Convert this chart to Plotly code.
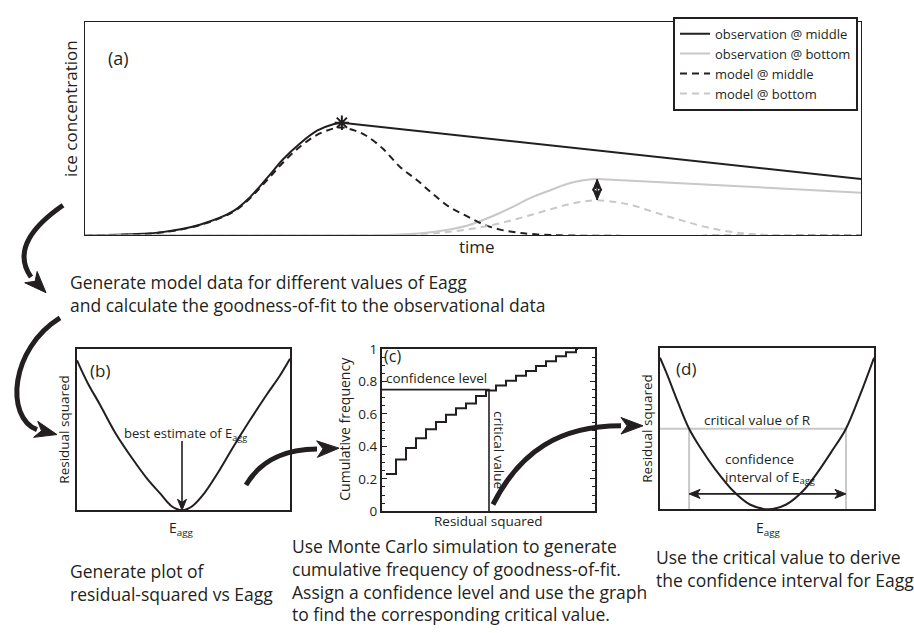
import math
import plotly.graph_objects as go

W, H = 914, 633
FONT = "Open Sans"
INK = "#231f20"
GREY = "#c8c8c8"

# ---------------- Panel (a): ice concentration vs time ----------------
time_obs_mid = [0, 5.8, 9.7, 14.8, 19.1, 21.3, 23.5, 25.5, 27.7, 29.9, 32.0, 33.1, 100]
conc_obs_mid = [0, 0.005, 0.014, 0.05, 0.113, 0.18, 0.27, 0.355, 0.43, 0.49, 0.52, 0.527, 0.264]
obs_mid_peak = 11

time_obs_bot = [0, 34.2, 40.6, 44.8, 49.2, 53.5, 57.7, 59.9, 62.1, 64.2, 66.0, 100]
conc_obs_bot = [0, 0, 0.004, 0.016, 0.045, 0.105, 0.18, 0.21, 0.24, 0.258, 0.264, 0.2]
obs_bot_peak = 10

time_mod_mid = [0, 5.8, 9.7, 14.8, 19.1, 21.3, 23.5, 25.5, 27.7, 29.9, 32.0, 33.1, 34.8, 36.3,
                38.4, 40.6, 42.8, 44.8, 47.0, 49.2, 51.3, 53.5, 55.7, 57.7, 61.2, 100]
conc_mod_mid = [0, 0.004, 0.013, 0.048, 0.11, 0.175, 0.26, 0.34, 0.415, 0.47, 0.50, 0.505, 0.49, 0.465,
                0.405, 0.32, 0.258, 0.195, 0.132, 0.09, 0.052, 0.027, 0.013, 0.006, 0, 0]

time_mod_bot = [0, 34.2, 40.6, 44.8, 49.2, 53.5, 57.7, 62.1, 64.2, 66.0, 68.6, 70.6, 72.8, 75.0,
                77.1, 79.3, 81.5, 83.5, 85.7, 89.6, 100]
conc_mod_bot = [0, 0, 0.002, 0.01, 0.027, 0.057, 0.098, 0.143, 0.158, 0.164, 0.155, 0.14, 0.115, 0.09,
                0.068, 0.045, 0.027, 0.015, 0.007, 0, 0]

peak_time_mid, peak_conc_mid = 33.1, 0.527
resid_time, resid_top, resid_bottom = 66.0, 0.262, 0.166

series_names = ["observation @ middle", "observation @ bottom", "model @ middle", "model @ bottom"]

# ---------------- Panel (b): residual squared vs Eagg ----------------
eagg_b = [0, 0.05, 0.108, 0.18, 0.263, 0.33, 0.39, 0.44, 0.468, 0.493, 0.518, 0.545, 0.60, 0.66,
          0.732, 0.81, 0.892, 0.95, 1.0]
resid_b = [0.93, 0.79, 0.655, 0.48, 0.315, 0.195, 0.105, 0.03, 0.008, 0, 0.008, 0.03, 0.11, 0.23,
           0.39, 0.555, 0.72, 0.83, 0.94]
best_eagg = 0.493
best_arrow_top = 0.43

# ---------------- Panel (c): cumulative frequency ----------------
resid_c = [0.4, 1.4, 2.4, 3.4, 4.4, 5.4, 6.4, 7.4, 8.4, 9.4, 10.4, 11.4, 12.4, 13.4, 14.4,
           15.4, 16.4, 17.4, 18.4, 19.4, 19.6]
cumfreq_c = [0.23, 0.32, 0.39, 0.45, 0.505, 0.55, 0.595, 0.635, 0.665, 0.71, 0.745, 0.775, 0.805,
             0.835, 0.865, 0.895, 0.925, 0.955, 0.98, 1.0, 1.0]
conf_level = 0.75
crit_value = 10.7
c_ticks = [0, 0.2, 0.4, 0.6, 0.8, 1]
c_ticklabels = ["0", "0.2", "0.4", "0.6", "0.8", "1"]

# ---------------- Panel (d): confidence interval ----------------
eagg_d = [0, 0.033, 0.085, 0.136, 0.187, 0.26, 0.341, 0.42, 0.505, 0.59, 0.669, 0.734, 0.80, 0.869,
          0.935, 1.0]
resid_d = [0.94, 0.837, 0.66, 0.5, 0.385, 0.245, 0.115, 0.03, 0, 0.03, 0.115, 0.225, 0.355, 0.5,
           0.71, 0.94]
crit_R = 0.5
ci_low, ci_high = 0.136, 0.869
ci_arrow_level = 0.096


def fx(x):
    return x / W


def fy(y):
    return 1 - y / H


fig = go.Figure()

# panel (a) traces
fig.add_trace(go.Scatter(x=time_obs_mid[:obs_mid_peak + 1], y=conc_obs_mid[:obs_mid_peak + 1],
                         mode="lines", line=dict(color=INK, width=2, shape="spline"),
                         name=series_names[0], legendgroup="om", xaxis="x", yaxis="y"))
fig.add_trace(go.Scatter(x=time_obs_bot[:obs_bot_peak + 1], y=conc_obs_bot[:obs_bot_peak + 1],
                         mode="lines", line=dict(color=GREY, width=2, shape="spline"),
                         name=series_names[1], legendgroup="ob", xaxis="x", yaxis="y"))
fig.add_trace(go.Scatter(x=time_mod_mid, y=conc_mod_mid, mode="lines",
                         line=dict(color=INK, width=2, shape="spline", dash="7px,5px"),
                         name=series_names[2], legendgroup="mm", xaxis="x", yaxis="y"))
fig.add_trace(go.Scatter(x=time_mod_bot, y=conc_mod_bot, mode="lines",
                         line=dict(color=GREY, width=2, shape="spline", dash="7px,5px"),
                         name=series_names[3], legendgroup="mb", xaxis="x", yaxis="y"))
fig.add_trace(go.Scatter(x=time_obs_mid[obs_mid_peak:], y=conc_obs_mid[obs_mid_peak:],
                         mode="lines", line=dict(color=INK, width=2),
                         showlegend=False, legendgroup="om", xaxis="x", yaxis="y"))
fig.add_trace(go.Scatter(x=time_obs_bot[obs_bot_peak:], y=conc_obs_bot[obs_bot_peak:],
                         mode="lines", line=dict(color=GREY, width=2),
                         showlegend=False, legendgroup="ob", xaxis="x", yaxis="y"))
fig.add_trace(go.Scatter(x=[peak_time_mid], y=[peak_conc_mid], mode="markers",
                         marker=dict(symbol="asterisk-open", size=12, color=INK,
                                     line=dict(color=INK, width=2)),
                         showlegend=False, xaxis="x", yaxis="y"))
fig.add_trace(go.Scatter(x=[resid_time, resid_time], y=[resid_top, resid_bottom], mode="lines",
                         line=dict(color=INK, width=1.5), showlegend=False, xaxis="x", yaxis="y"))

# panel (b)
fig.add_trace(go.Scatter(x=eagg_b, y=resid_b, mode="lines",
                         line=dict(color=INK, width=2, shape="spline"),
                         showlegend=False, xaxis="x2", yaxis="y2"))
fig.add_trace(go.Scatter(x=[best_eagg, best_eagg], y=[best_arrow_top, 0.02], mode="lines",
                         line=dict(color=INK, width=1.6), showlegend=False, xaxis="x2", yaxis="y2"))

# panel (c)
fig.add_trace(go.Scatter(x=resid_c, y=cumfreq_c, mode="lines",
                         line=dict(color=INK, width=2, shape="hv"),
                         showlegend=False, xaxis="x3", yaxis="y3"))
fig.add_trace(go.Scatter(x=[0, crit_value, crit_value], y=[conf_level, conf_level, 0], mode="lines",
                         line=dict(color=INK, width=1.6),
                         showlegend=False, xaxis="x3", yaxis="y3"))

# panel (d)
fig.add_trace(go.Scatter(x=[0, ci_high, ci_high, None, ci_low, ci_low],
                         y=[crit_R, crit_R, 0, None, crit_R, 0], mode="lines",
                         line=dict(color=GREY, width=2),
                         showlegend=False, xaxis="x4", yaxis="y4"))
fig.add_trace(go.Scatter(x=eagg_d, y=resid_d, mode="lines",
                         line=dict(color=INK, width=2, shape="spline"),
                         showlegend=False, xaxis="x4", yaxis="y4"))
fig.add_trace(go.Scatter(x=[ci_low + 0.02, ci_high - 0.02], y=[ci_arrow_level, ci_arrow_level],
                         mode="lines", line=dict(color=INK, width=1.6),
                         showlegend=False, xaxis="x4", yaxis="y4"))


def axis(domain, rng, anchor, lw):
    return dict(domain=domain, range=rng, anchor=anchor, showline=True, mirror=True,
                linecolor=INK, linewidth=lw, showgrid=False, zeroline=False,
                showticklabels=False, ticks="", fixedrange=True)


layout = dict(
    width=W, height=H, autosize=False,
    margin=dict(l=0, r=0, t=0, b=0),
    paper_bgcolor="white", plot_bgcolor="white",
    font=dict(family=FONT, color=INK),
    xaxis=axis([fx(85), fx(861)], [0, 100], "y", 1.3),
    yaxis=axis([fy(233), fy(13)], [0, 1], "x", 1.3),
    xaxis2=axis([fx(77), fx(290)], [0, 1], "y2", 2),
    yaxis2=axis([fy(516), fy(350)], [0, 1], "x2", 2),
    xaxis3=axis([fx(382), fx(595)], [0, 21.3], "y3", 2),
    yaxis3=axis([fy(517), fy(350)], [0, 1], "x3", 2),
    xaxis4=axis([fx(660), fx(874)], [0, 1], "y4", 2),
    yaxis4=axis([fy(515), fy(349)], [0, 1], "x4", 2),
    legend=dict(x=fx(673), y=fy(8), xanchor="left", yanchor="top",
                bordercolor=INK, borderwidth=2, bgcolor="white",
                font=dict(family=FONT, size=13, color=INK),
                tracegroupgap=0, itemwidth=30),
    showlegend=True,
)
layout["yaxis3"].update(dict(showticklabels=True, tickvals=c_ticks, ticktext=c_ticklabels,
                             ticks="inside", ticklen=5, tickwidth=1, tickcolor=INK,
                             mirror="allticks",
                             tickfont=dict(family=FONT, size=13.5, color=INK),
                             minor=dict(ticks="inside", dtick=0.05, ticklen=3, tickwidth=1,
                                        tickcolor=INK)))
fig.update_layout(**layout)

ann = []


def text(x, y, s, size, angle=0, xanchor="center", align="center"):
    ann.append(dict(x=fx(x), y=fy(y), xref="paper", yref="paper", text=s, showarrow=False,
                    xanchor=xanchor, yanchor="middle", align=align, textangle=angle,
                    font=dict(family=FONT, size=size, color=INK)))


DESC = 17.5
# panel (a) text
text(70, 103, "ice concentration", 17, angle=-90)
text(477, 244, "time", 17)
text(118, 50, "(a)", 18)
text(68, 293, "Generate model data for different values of Eagg<br>"
              "and calculate the goodness-of-fit to the observational data", DESC,
     xanchor="left", align="left")
# panel (b)
text(100, 372, "(b)", 17)
text(64, 433, "Residual squared", 13.5, angle=-90)
text(185, 437, "best estimate of E<sub>agg</sub>", 13)
text(181, 535, "E<sub>agg</sub>", 14)
text(68, 590, "Generate plot of<br>residual-squared vs Eagg", DESC, xanchor="left", align="left")
# panel (c)
text(392, 357, "(c)", 16)
text(436, 380, "confidence level", 13.5)
text(499, 454, "critical value", 13.5, angle=90)
text(345, 432, "Cumulative frequency", 14, angle=-90)
text(488, 527, "Residual squared", 13.5)
text(290, 588, "Use Monte Carlo simulation to generate<br>cumulative frequency of goodness-of-fit.<br>"
               "Assign a confidence level and use the graph<br>to find the corresponding critical value.",
     DESC, xanchor="left", align="left")
# panel (d)
text(686, 370, "(d)", 17)
text(757, 423, "critical value of R", 13.5)
text(723, 473, "confidence<br>interval of E<sub>agg</sub>", 13.5, xanchor="left", align="left")
text(647, 432, "Residual squared", 13.5, angle=-90)
text(768, 535, "E<sub>agg</sub>", 14)
text(654, 576, "Use the critical value to derive<br>the confidence interval for Eagg", DESC,
     xanchor="left", align="left")
fig.update_layout(annotations=ann)

shapes = []

# small arrowheads anchored at data points (path in pixel offsets, y up)
HEAD_DOWN = "M 0,0 L -4.5,11 L 0,8 L 4.5,11 Z"
HEAD_UP = "M 0,0 L -4.5,-11 L 0,-8 L 4.5,-11 Z"
HEAD_LEFT = "M 0,0 L 11,4.5 L 8,0 L 11,-4.5 Z"
HEAD_RIGHT = "M 0,0 L -11,4.5 L -8,0 L -11,-4.5 Z"


def head(xr, yr, xa, ya, path):
    shapes.append(dict(type="path", xref=xr, yref=yr, xsizemode="pixel", ysizemode="pixel",
                       xanchor=xa, yanchor=ya, path=path, fillcolor=INK,
                       line=dict(color=INK, width=1), layer="above"))


head("x2", "y2", best_eagg, 0, HEAD_DOWN)
head("x", "y", resid_time, resid_top, HEAD_UP)
head("x", "y", resid_time, resid_bottom, HEAD_DOWN)
head("x4", "y4", ci_low, ci_arrow_level, HEAD_LEFT)
head("x4", "y4", ci_high, ci_arrow_level, HEAD_RIGHT)

# big curved flow arrows (pixel geometry of the diagram)
flow_arrows = [
    ((63, 202), (35, 222), (12, 248), (31, 276), (46, 292)),
    ((60, 318), (10, 350), (5, 420), (37, 433), (57, 438)),
    ((246, 490), (262, 462), (290, 453), (317, 453), (339, 452)),
    ((493, 510), (520, 455), (560, 429), (621, 429), (643, 429)),
]


def P(pt):
    return f"{fx(pt[0]):.5f},{fy(pt[1]):.5f}"


for s, c1, c2, e, tip in flow_arrows:
    shapes.append(dict(type="path", xref="paper", yref="paper",
                       path=f"M {P(s)} C {P(c1)} {P(c2)} {P(e)}",
                       line=dict(color=INK, width=5), layer="above"))
    dx, dy = tip[0] - e[0], tip[1] - e[1]
    n = math.hypot(dx, dy)
    ux, uy = dx / n, dy / n
    nx, ny = -uy, ux
    L, hw, notch = 22, 8.5, 6
    bx, by = tip[0] - ux * L, tip[1] - uy * L
    left = (bx + nx * hw, by + ny * hw)
    right = (bx - nx * hw, by - ny * hw)
    nc = (tip[0] - ux * (L - notch), tip[1] - uy * (L - notch))
    shapes.append(dict(type="path", xref="paper", yref="paper",
                       path=f"M {P(tip)} L {P(left)} L {P(nc)} L {P(right)} Z",
                       fillcolor=INK, line=dict(color=INK, width=1), layer="above"))
fig.update_layout(shapes=shapes)

fig.write_html("out.html")
